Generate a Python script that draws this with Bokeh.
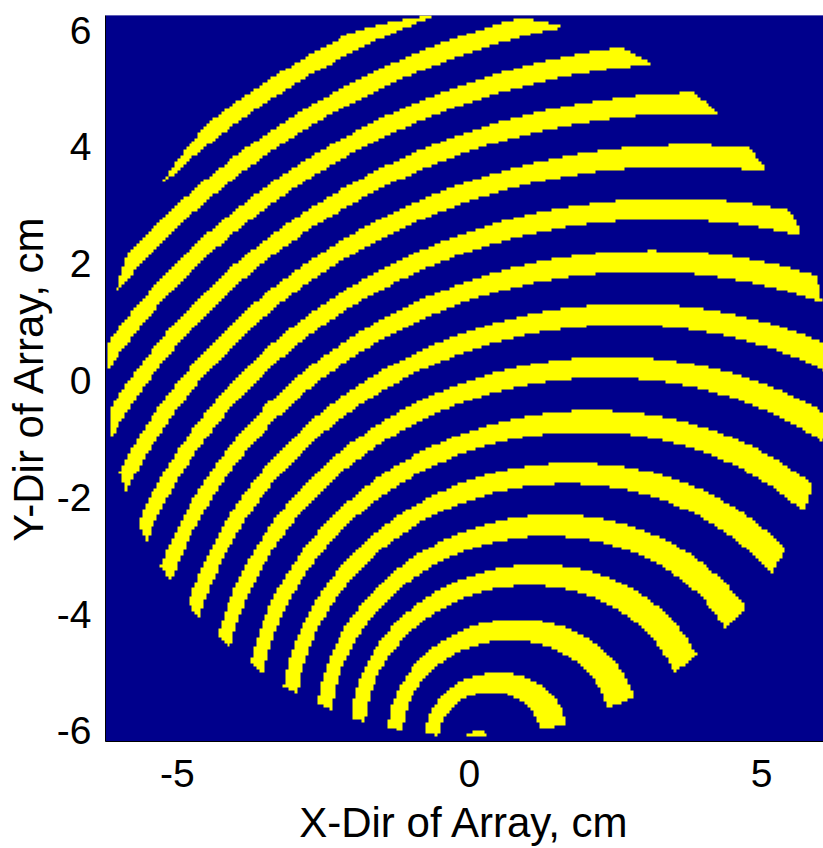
import numpy as np
from bokeh.plotting import figure
from bokeh.models import LinearColorMapper, Range1d, FixedTicker
from bokeh.embed import file_html
from bokeh.resources import INLINE

# ---- geometry (cm) ----
focus = [0.06, -6.20]            # centre of the small dot at the bottom
tilt = [0.30, 0.10]              # drift of the ring centres per cm of ring size (x, y)
stretch = 1.07                   # rings are a little wider than tall
aperture = [-0.02, 0.09, 6.19]   # circular aperture: centre x, centre y, radius
# yellow bands, read where they cross the vertical through the dot (cm), bottom to top
band_lo_y = [-6.60, -5.39, -4.55, -3.67, -2.87, -2.03, -1.19, -0.32, 0.53, 1.39,
             2.23, 3.09, 3.94, 4.78, 5.63, 6.48]
band_hi_y = [-6.01, -5.07, -4.21, -3.33, -2.53, -1.69, -0.85, 0.02, 0.87, 1.73,
             2.57, 3.43, 4.28, 5.12, 5.97, 6.82]
cell = 0.05                      # pixel size of the original map (cm)

x_ticks = [-5, 0, 5]
y_ticks = [-6, -4, -2, 0, 2, 4, 6]
x_lim = [-6.23, 6.06]
y_lim = [-6.18, 6.25]

navy = "#00008C"
yellow = "#FFFF00"

frame_w, frame_h = 718, 726

# ---- raster of the band map ----
nx, ny = frame_w, frame_h
xs = x_lim[0] + (np.arange(nx) + 0.5) * (x_lim[1] - x_lim[0]) / nx
ys = y_lim[0] + (np.arange(ny) + 0.5) * (y_lim[1] - y_lim[0]) / ny
xs = (np.floor(xs / cell) + 0.5) * cell
ys = (np.floor(ys / cell) + 0.5) * cell
X, Y = np.meshgrid(xs, ys)
dx = X - focus[0]
dy = Y - focus[1]
level = np.hypot(dx / stretch, dy) - tilt[0] * dx - tilt[1] * dy
lo = (np.array(band_lo_y) - focus[1]) * (1 - tilt[1])
hi = (np.array(band_hi_y) - focus[1]) * (1 - tilt[1])
mask = np.zeros_like(level, dtype=bool)
for a, b in zip(lo, hi):
    mask |= (level >= a) & (level <= b)
mask &= np.hypot(X - aperture[0], Y - aperture[1]) <= aperture[2]

p = figure(frame_width=frame_w, frame_height=frame_h,
           x_range=Range1d(*x_lim), y_range=Range1d(*y_lim),
           output_backend="svg", toolbar_location=None,
           min_border_left=105, min_border_right=0,
           min_border_top=15, min_border_bottom=107)
p.image(image=[mask.astype(float)], x=x_lim[0], y=y_lim[0],
        dw=x_lim[1] - x_lim[0], dh=y_lim[1] - y_lim[0],
        color_mapper=LinearColorMapper(palette=[navy, yellow], low=0, high=1))

p.grid.visible = False
p.outline_line_color = None
p.background_fill_color = navy

font = "Liberation Sans"
for ax in (p.xaxis[0], p.yaxis[0]):
    ax.axis_line_color = "black"
    ax.axis_line_width = 1
    ax.major_tick_in = 0
    ax.major_tick_out = 0
    ax.minor_tick_line_color = None
    ax.major_label_text_font = font
    ax.major_label_text_font_size = "39px"
    ax.major_label_text_color = "black"
    ax.axis_label_text_font = font
    ax.axis_label_text_font_size = "42px"
    ax.axis_label_text_font_style = "normal"
    ax.axis_label_text_color = "black"

p.xaxis.ticker = FixedTicker(ticks=x_ticks)
p.yaxis.ticker = FixedTicker(ticks=y_ticks)
p.xaxis.major_label_overrides = {t: str(t) for t in x_ticks}
p.yaxis.major_label_overrides = {t: str(t) for t in y_ticks}
p.xaxis.axis_label = "X-Dir of Array, cm"
p.yaxis.axis_label = "Y-Dir of Array, cm"
p.xaxis.major_label_standoff = 18
p.xaxis.axis_label_standoff = 9
p.yaxis.major_label_standoff = 14
p.yaxis.axis_label_standoff = 2

open("out.html", "w").write(file_html(p, INLINE))
